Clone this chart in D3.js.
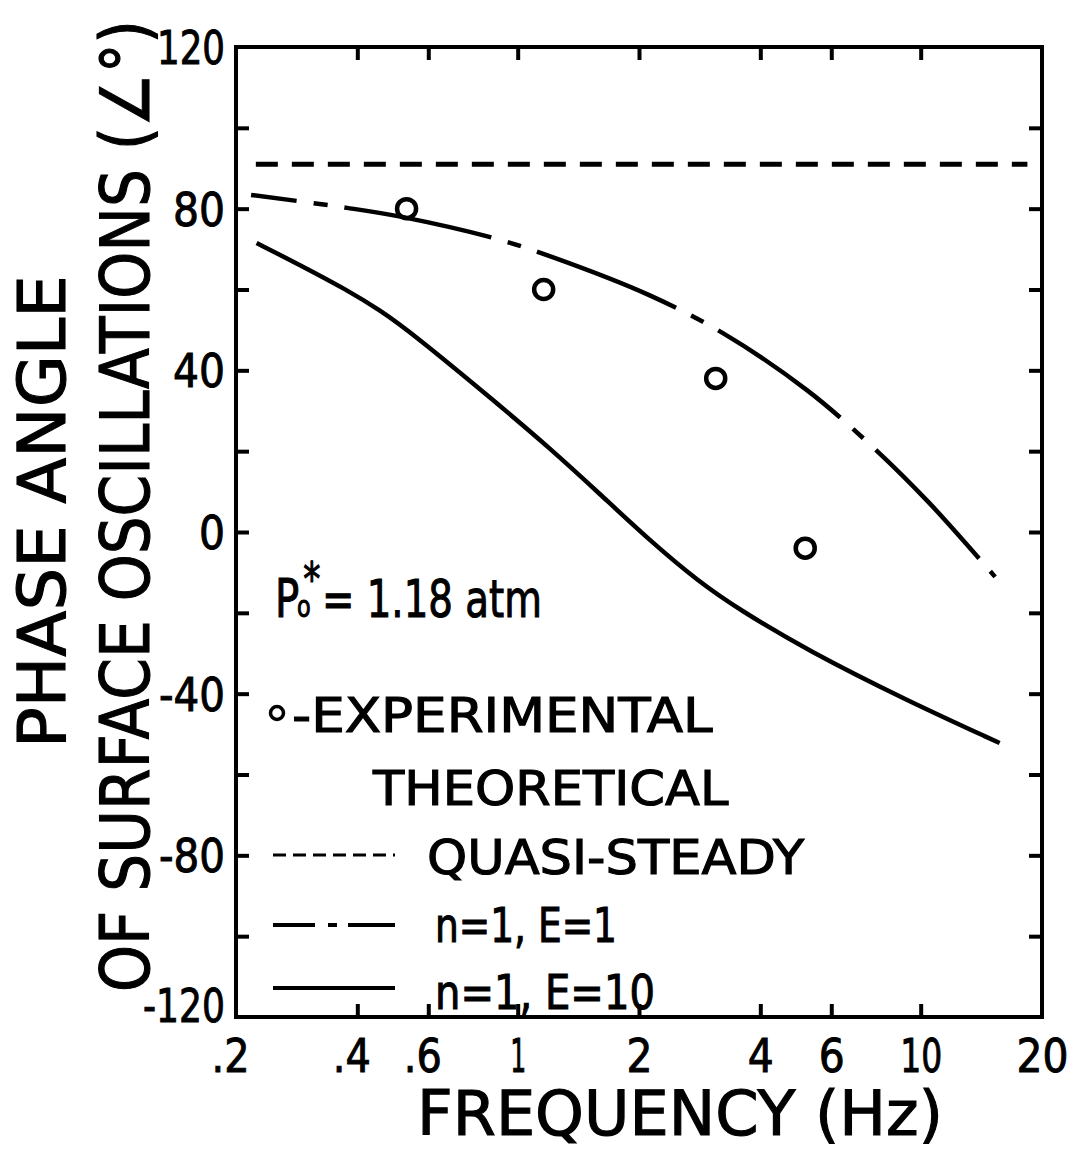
<!DOCTYPE html>
<html>
<head>
<meta charset="utf-8">
<script src="https://cdn.jsdelivr.net/npm/d3@7"></script>
<style>
  html, body { margin: 0; padding: 0; background: #fff; }
  svg { display: block; }
  text { font-family: "DejaVu Sans", sans-serif; fill: #000; }
</style>
</head>
<body>
<svg id="chart"></svg>
<script>
// values: frequency (Hz), phase angle (deg)
const expFreq = [0.53, 1.16, 3.1, 5.17];
const expPhase = [80, 60, 38, -4];

const quasiFreq = [0.224, 18.4];
const quasiPhase = [91, 91];

// theoretical n=1, E=1
const e1Freq = [0.218, 0.377, 0.519, 0.888, 1.22, 2.12, 3.23, 5.22, 7.61, 10.5, 15.3];
const e1Phase = [83.4, 80.2, 77.9, 72.5, 68, 58.6, 49.2, 35.1, 21, 7.2, -11.1];

// theoretical n=1, E=10
const e10Freq = [0.225, 0.288, 0.377, 0.455, 0.55, 0.888, 1.2, 1.6, 2.12, 2.82, 3.56, 5.22, 9.2, 15.7];
const e10Phase = [71.5, 66.1, 59.9, 54.9, 49.0, 31.9, 20.8, 9.4, -2.0, -12.4, -19.3, -29.2, -41.6, -52.2];

const xTickValues = [0.2, 0.4, 0.6, 1, 2, 4, 6, 10, 20];
const xTickLabels = [".2", ".4", ".6", "1", "2", "4", "6", "10", "20"];
const xMinorTicks = [0.4, 0.6, 1, 2, 4, 6, 10];
const yTickValues = [120, 80, 40, 0, -40, -80, -120];
const yMinorTicks = [-100, -80, -60, -40, -20, 0, 20, 40, 60, 80, 100];

// the lettering is narrow: rough glyph widths used to squeeze the tick labels
function lettering(str) {
  let w = 0;
  for (const c of str) w += c === "1" ? 16 : c === "." ? 12 : c === "-" ? 14 : 26;
  return w;
}

function drawChart() {
  const W = 1074, H = 1151;
  const margin = {top: 47, left: 236, right: 32, bottom: 134};

  const svg = d3.select("#chart").attr("width", W).attr("height", H);
  svg.append("rect").attr("width", W).attr("height", H).attr("fill", "#fff");

  const x = d3.scaleLog().domain([0.2, 20]).range([margin.left, W - margin.right]);
  const y = d3.scaleLinear().domain([-120, 120]).range([H - margin.bottom, margin.top]);
  const [x0, x1] = x.range();
  const [yb, yt] = y.range();

  // inward ticks on all four sides
  const tickLen = 13;
  const tickAxes = [
    {axis: d3.axisBottom(x).tickValues(xMinorTicks), t: `translate(0,${yb})`},
    {axis: d3.axisTop(x).tickValues(xMinorTicks), t: `translate(0,${yt})`},
    {axis: d3.axisLeft(y).tickValues(yMinorTicks), t: `translate(${x0},0)`},
    {axis: d3.axisRight(y).tickValues(yMinorTicks), t: `translate(${x1},0)`},
  ];
  tickAxes.forEach((a) => {
    const g = svg.append("g").attr("transform", a.t)
      .call(a.axis.tickSize(-tickLen).tickFormat(""));
    g.select(".domain").remove();
    g.selectAll(".tick line").attr("stroke", "#000").attr("stroke-width", 4);
  });

  // frame
  svg.append("rect")
    .attr("x", x0).attr("y", yt)
    .attr("width", x1 - x0).attr("height", yb - yt)
    .attr("fill", "none").attr("stroke", "#000").attr("stroke-width", 4);

  // tick labels
  const xLab = svg.append("g").attr("transform", `translate(0,${yb})`)
    .call(d3.axisBottom(x).tickValues(xTickValues)
      .tickFormat((d, i) => xTickLabels[i]).tickSize(0).tickPadding(22));
  xLab.select(".domain").remove();
  xLab.attr("font-family", null).attr("font-size", null);
  xLab.selectAll("text")
    .style("font-size", "46px")
    .attr("stroke", "#000").attr("stroke-width", 1)
    .attr("textLength", (d, i) => lettering(xTickLabels[i]))
    .attr("lengthAdjust", "spacingAndGlyphs")
    .attr("dx", (d, i) => xTickLabels[i].startsWith(".") ? -6 : 0);

  const yLab = svg.append("g").attr("transform", `translate(${x0},0)`)
    .call(d3.axisLeft(y).tickValues(yTickValues).tickSize(0).tickPadding(11)
      .tickFormat((d) => String(d)));
  yLab.select(".domain").remove();
  yLab.attr("font-family", null).attr("font-size", null);
  yLab.selectAll("text")
    .style("font-size", "46px")
    .attr("dy", (d) => d === -120 ? "0.1em" : "0.36em")
    .attr("stroke", "#000").attr("stroke-width", 1)
    .attr("textLength", (d) => lettering(String(d)))
    .attr("lengthAdjust", "spacingAndGlyphs");

  // quasi-steady
  const quasi = quasiFreq.map((f, i) => ({f, v: quasiPhase[i]}));
  svg.append("path").datum(quasi)
    .attr("d", d3.line().x((d) => x(d.f)).y((d) => y(d.v)))
    .attr("fill", "none").attr("stroke", "#000").attr("stroke-width", 5)
    .attr("stroke-dasharray", "22 14");

  // theoretical curves
  const curve = d3.line().x((d) => x(d.f)).y((d) => y(d.v)).curve(d3.curveCatmullRom.alpha(0.5));
  const smooth = d3.line().x((d) => x(d.f)).y((d) => y(d.v)).curve(d3.curveBasis);
  const e1 = e1Freq.map((f, i) => ({f, v: e1Phase[i]}));
  const e10 = e10Freq.map((f, i) => ({f, v: e10Phase[i]}));

  svg.append("path").datum(e1)
    .attr("d", curve)
    .attr("fill", "none").attr("stroke", "#000").attr("stroke-width", 4.5)
    .attr("stroke-dasharray", "150 17 14 17").attr("stroke-dashoffset", 104);

  svg.append("path").datum(e10)
    .attr("d", smooth)
    .attr("fill", "none").attr("stroke", "#000").attr("stroke-width", 4.5);

  // experimental points
  const exp = expFreq.map((f, i) => ({f, v: expPhase[i]}));
  svg.append("g").selectAll("circle").data(exp).join("circle")
    .attr("cx", (d) => x(d.f)).attr("cy", (d) => y(d.v)).attr("r", 9.5)
    .attr("fill", "none").attr("stroke", "#000").attr("stroke-width", 4.5);

  // squeeze a text horizontally so it spans len px from (px, py)
  function fit(t, px, py, len, rot) {
    const w = t.node().getBBox().width;
    t.attr("transform", `translate(${px},${py}) rotate(${rot || 0}) scale(${len / w},1)`);
    return t;
  }
  function label(str, px, py, size, len, rot) {
    const t = svg.append("text").attr("font-size", size)
      .attr("stroke", "#000").attr("stroke-width", 1.1)
      .text(str);
    return fit(t, px, py, len, rot);
  }

  // P0* = 1.18 atm, one text with sub/superscript stacked
  const p = svg.append("text")
    .attr("stroke", "#000").attr("stroke-width", 1.1);
  p.append("tspan").attr("font-size", 54).text("P");
  p.append("tspan").attr("font-size", 30).attr("dx", -3).text("o");
  p.append("tspan").attr("font-size", 46).attr("dx", -10).attr("dy", -22).text("*");
  p.append("tspan").attr("font-size", 52).attr("dx", 2).attr("dy", 22).text("= 1.18 atm");
  fit(p, 275, 617, 267);

  // legend
  const lg = svg.append("g");
  lg.append("circle").attr("cx", 277).attr("cy", 713).attr("r", 6.5)
    .attr("fill", "none").attr("stroke", "#000").attr("stroke-width", 3.5);
  label("-EXPERIMENTAL", 292, 732, 48, 421);
  label("THEORETICAL", 373, 805, 48, 357);

  lg.append("line").attr("x1", 273).attr("x2", 395).attr("y1", 855).attr("y2", 855)
    .attr("stroke", "#000").attr("stroke-width", 3).attr("stroke-dasharray", "13 7");
  label("QUASI-STEADY", 427, 874, 48, 378);

  lg.append("line").attr("x1", 273).attr("x2", 395).attr("y1", 925).attr("y2", 925)
    .attr("stroke", "#000").attr("stroke-width", 4).attr("stroke-dasharray", "42 13 9 11 47");
  label("n=1, E=1", 435, 942, 48, 182);

  lg.append("line").attr("x1", 273).attr("x2", 395).attr("y1", 988).attr("y2", 988)
    .attr("stroke", "#000").attr("stroke-width", 4);
  label("n=1, E=10", 435, 1009, 48, 220);

  // axis titles
  label("FREQUENCY (Hz)", 417, 1135, 62, 526);
  label("PHASE ANGLE", 65, 748, 66, 473, -90);
  label("OF SURFACE OSCILLATIONS (\u2220\u00b0)", 149, 992, 68, 972, -90);
}

drawChart();
</script>
</body>
</html>
